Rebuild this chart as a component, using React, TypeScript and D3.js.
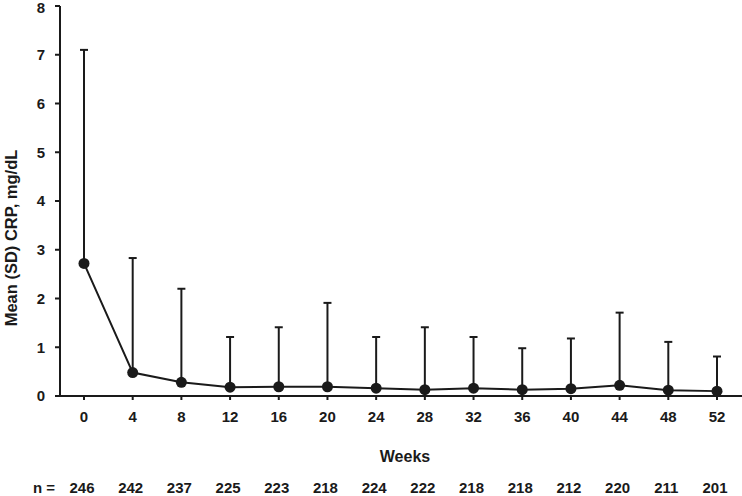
import React from "react";
import * as d3 from "d3";

const weeks = [0, 4, 8, 12, 16, 20, 24, 28, 32, 36, 40, 44, 48, 52];
const means = [2.72, 0.48, 0.28, 0.18, 0.19, 0.19, 0.16, 0.13, 0.16, 0.13, 0.15, 0.22, 0.12, 0.1];
const upper = [7.1, 2.83, 2.2, 1.21, 1.41, 1.91, 1.21, 1.41, 1.21, 0.98, 1.18, 1.71, 1.11, 0.81];
const nCounts = [246, 242, 237, 225, 223, 218, 224, 222, 218, 218, 212, 220, 211, 201];
const yTicks = [0, 1, 2, 3, 4, 5, 6, 7, 8];

const W = 742;
const H = 496;
const FONT = "'Liberation Sans', Arial, sans-serif";
const INK = "#1a1a1a";

export default function App() {
  const x = d3.scaleLinear().domain([0, 52]).range([84, 717]);
  const y = d3.scaleLinear().domain([0, 8]).range([396, 6]);
  const axisLeft = 60;
  const line = d3
    .line<number>()
    .x((_, i) => x(weeks[i]))
    .y((d) => y(d));

  return (
    <svg
      width={W}
      height={H}
      style={{ position: "absolute", left: 0, top: 0, background: "#fff" }}
      fontFamily={FONT}
      fontWeight="bold"
    >
      {/* y axis */}
      <line x1={axisLeft} x2={axisLeft} y1={y(8)} y2={y(0)} stroke={INK} strokeWidth={2} />
      {yTicks.map((t) => (
        <g key={t}>
          <line x1={axisLeft - 5} x2={axisLeft} y1={y(t)} y2={y(t)} stroke={INK} strokeWidth={2} />
          <text x={45} y={y(t) + (t === 8 ? 1.5 : 0)} dy="0.36em" textAnchor="end" fontSize={15} fill={INK}>
            {t}
          </text>
        </g>
      ))}
      {/* x axis */}
      <line x1={axisLeft - 1} x2={W} y1={y(0)} y2={y(0)} stroke={INK} strokeWidth={2} />
      {weeks.map((w) => (
        <g key={w}>
          <line x1={x(w)} x2={x(w)} y1={y(0)} y2={y(0) + 4} stroke={INK} strokeWidth={2} />
          <text x={x(w)} y={422} textAnchor="middle" fontSize={15} fill={INK}>
            {w}
          </text>
        </g>
      ))}
      {/* error bars */}
      {weeks.map((w, i) => (
        <g key={"e" + w}>
          <line x1={x(w)} x2={x(w)} y1={y(means[i])} y2={y(upper[i])} stroke={INK} strokeWidth={2} />
          <line x1={x(w) - 4} x2={x(w) + 4} y1={y(upper[i])} y2={y(upper[i])} stroke={INK} strokeWidth={2} />
        </g>
      ))}
      {/* mean line */}
      <path d={line(means) || ""} fill="none" stroke={INK} strokeWidth={2} />
      {weeks.map((w, i) => (
        <circle key={"c" + w} cx={x(w)} cy={y(means[i])} r={5.5} fill={INK} />
      ))}
      {/* titles */}
      <text x={405} y={462} textAnchor="middle" fontSize={16} fill={INK}>
        Weeks
      </text>
      <text
        transform={`translate(17,238) rotate(-90)`}
        textAnchor="middle"
        fontSize={16.5}
        fill={INK}
      >
        Mean (SD) CRP, mg/dL
      </text>
      {/* n row */}
      <text x={55} y={493} textAnchor="end" fontSize={15} fill={INK}>
        n =
      </text>
      {weeks.map((w, i) => (
        <text key={"n" + w} x={x(w) - 2} y={493} textAnchor="middle" fontSize={15} fill={INK}>
          {nCounts[i]}
        </text>
      ))}
    </svg>
  );
}
